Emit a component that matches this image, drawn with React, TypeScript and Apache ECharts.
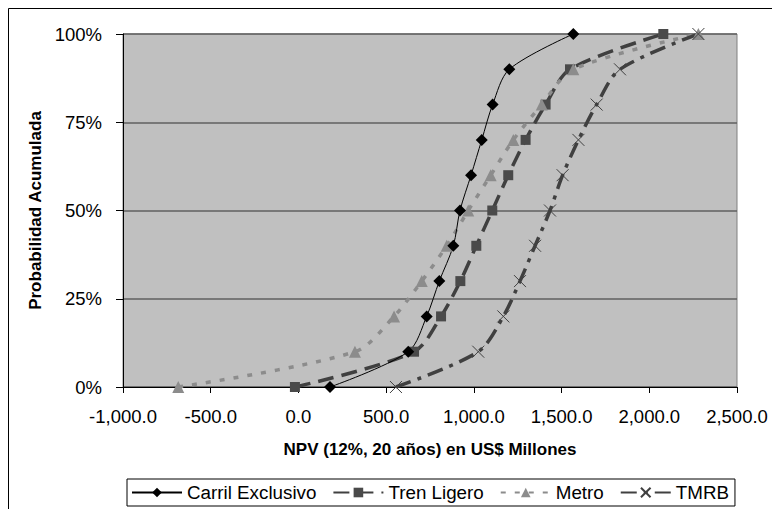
import React, { useEffect, useRef } from "react";
import * as echarts from "echarts";

const probabilities = [0, 0.1, 0.2, 0.3, 0.4, 0.5, 0.6, 0.7, 0.8, 0.9, 1.0];
const carrilExclusivo = [180, 626, 731, 803, 883, 921, 984, 1045, 1107, 1202, 1567];
const trenLigero = [-20, 659, 813, 923, 1014, 1105, 1196, 1295, 1409, 1548, 2080];
const metro = [-685, 322, 545, 703, 845, 968, 1096, 1225, 1387, 1567, 2280];
const tmrb = [556, 1025, 1168, 1263, 1349, 1434, 1506, 1596, 1700, 1833, 2280];
const seriesNames = ["Carril Exclusivo", "Tren Ligero", "Metro", "TMRB"];

const FONT = "'Liberation Sans', Arial, sans-serif";

const pairs = (xs: number[]) => xs.map((x, i) => [x, probabilities[i]]);

export default function App() {
  const ref = useRef<HTMLDivElement>(null);
  useEffect(() => {
    if (!ref.current) return;
    const chart = echarts.init(ref.current, undefined, { renderer: "svg" });
    const fmtX = (v: number) =>
      v.toLocaleString("en-US", { minimumFractionDigits: 1, maximumFractionDigits: 1 });
    chart.setOption({
      animation: false,
      textStyle: { fontFamily: FONT, color: "#000" },
      graphic: [
        {
          type: "rect",
          shape: { x: 0.5, y: 0.5, width: 1000, height: 1000 },
          style: { fill: "none", stroke: "#000", lineWidth: 1 },
          silent: true,
          z: -10,
        },
      ],
      grid: {
        left: 115,
        top: 26,
        right: 43,
        bottom: 122,
        show: true,
        backgroundColor: "#c0c0c0",
        borderColor: "#808080",
        borderWidth: 1,
      },
      legend: {
        left: 119,
        top: 471,
        data: seriesNames,
        orient: "horizontal",
        itemWidth: 50,
        itemHeight: 12,
        itemGap: 16,
        padding: [4, 6, 4, 4],
        borderColor: "#000",
        borderWidth: 1,
        backgroundColor: "#fff",
        textStyle: { fontSize: 18.8, fontFamily: FONT, color: "#000" },
      },
      xAxis: {
        type: "value",
        min: -1000,
        max: 2500,
        interval: 500,
        name: "NPV (12%, 20 años) en US$ Millones",
        nameLocation: "middle",
        nameGap: 54,
        nameTextStyle: { fontSize: 17, fontWeight: "bold", fontFamily: FONT, color: "#000" },
        axisLine: { show: true, onZero: false, lineStyle: { color: "#000", width: 1 } },
        axisTick: { show: true, length: 6, lineStyle: { color: "#000" } },
        axisLabel: { fontSize: 18.5, margin: 20, color: "#000", formatter: fmtX },
        splitLine: { show: false },
      },
      yAxis: {
        type: "value",
        min: 0,
        max: 1,
        interval: 0.25,
        name: "Probabilidad Acumulada",
        nameLocation: "middle",
        nameGap: 79,
        nameTextStyle: { fontSize: 17, fontWeight: "bold", fontFamily: FONT, color: "#000" },
        axisLine: { show: true, onZero: false, lineStyle: { color: "#000", width: 1 } },
        axisTick: { show: true, length: 7, lineStyle: { color: "#000" } },
        axisLabel: {
          fontSize: 18.5,
          margin: 21,
          color: "#000",
          formatter: (v: number) => Math.round(v * 100) + "%",
        },
        splitLine: { show: true, lineStyle: { color: "#606060", width: 1.5 } },
      },
      series: [
        {
          name: seriesNames[1],
          type: "line",
          data: pairs(trenLigero),
          smooth: 0.3,
          symbol: "rect",
          symbolSize: 10,
          itemStyle: { color: "#4a4a4a" },
          lineStyle: { color: "#404040", width: 3.5, type: [16, 8] },
        },
        {
          name: seriesNames[2],
          type: "line",
          data: pairs(metro),
          smooth: 0.3,
          symbol: "triangle",
          symbolSize: 12,
          itemStyle: { color: "#8c8c8c" },
          lineStyle: { color: "#8c8c8c", width: 3.5, type: [5, 9] },
        },
        {
          name: seriesNames[3],
          type: "line",
          data: pairs(tmrb),
          smooth: 0.3,
          symbol: "path://M0,0L10,10M10,0L0,10",
          symbolSize: 12,
          itemStyle: { color: "none", borderColor: "#404040", borderWidth: 1 },
          lineStyle: { color: "#404040", width: 3.5, type: [16, 7, 4, 7] },
        },
        {
          name: seriesNames[0],
          type: "line",
          data: pairs(carrilExclusivo),
          smooth: 0.3,
          symbol: "diamond",
          symbolSize: 12,
          itemStyle: { color: "#000" },
          lineStyle: { color: "#000", width: 1 },
        },
      ],
    });
    return () => chart.dispose();
  }, []);
  return <div ref={ref} style={{ width: 772, height: 501 }} />;
}
